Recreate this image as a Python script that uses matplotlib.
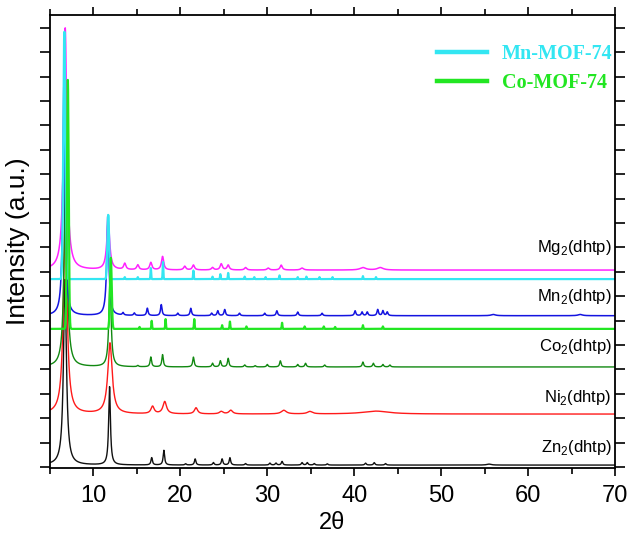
import numpy as np
import matplotlib
matplotlib.use("Agg")
import matplotlib.pyplot as plt
from matplotlib.lines import Line2D

plt.rcParams['font.family'] = ['Liberation Sans', 'DejaVu Sans']
plt.rcParams['mathtext.fontset'] = 'custom'
plt.rcParams['mathtext.rm'] = 'Liberation Sans'

# peak tables: position (2theta), height (a.u.), half width
# each pattern sits on its own offset baseline
zn_base = 0.08
zn_pos = [6.72, 11.85, 16.7, 18.1, 20.6, 21.7, 23.8, 24.8, 25.7, 27.5, 30.3, 31.0, 31.7, 34.0, 34.6, 35.4, 36.9, 41.3, 42.3, 43.6, 55.5]
zn_hgt = [7.6, 3.2, 0.3, 0.6, 0.05, 0.25, 0.1, 0.25, 0.3, 0.06, 0.08, 0.08, 0.15, 0.1, 0.1, 0.06, 0.05, 0.08, 0.1, 0.06, 0.04]
zn_wid = [0.2, 0.12, 0.1, 0.1, 0.1, 0.1, 0.1, 0.1, 0.1, 0.1, 0.1, 0.1, 0.1, 0.1, 0.1, 0.1, 0.1, 0.1, 0.1, 0.1, 0.3]

ni_base = 2.17
ni_pos = [6.75, 11.9, 16.8, 18.2, 21.8, 24.7, 25.8, 31.9, 34.9, 42.5]
ni_hgt = [8.0, 2.9, 0.3, 0.5, 0.25, 0.1, 0.15, 0.15, 0.1, 0.12]
ni_wid = [0.25, 0.3, 0.22, 0.25, 0.22, 0.25, 0.25, 0.35, 0.35, 1.8]

co_base = 4.1
co_pos = [6.8, 11.9, 15.1, 16.6, 17.95, 21.5, 23.7, 24.6, 25.5, 27.4, 28.6, 30.0, 31.5, 33.5, 34.4, 36.6, 41.0, 42.2, 43.3, 44.1]
co_hgt = [8.5, 3.6, 0.05, 0.4, 0.5, 0.4, 0.15, 0.25, 0.35, 0.08, 0.05, 0.1, 0.25, 0.1, 0.15, 0.08, 0.2, 0.15, 0.1, 0.08]
co_wid = [0.2, 0.15, 0.1, 0.1, 0.1, 0.1, 0.1, 0.1, 0.1, 0.1, 0.1, 0.1, 0.1, 0.1, 0.1, 0.1, 0.1, 0.1, 0.1, 0.1]

mn_base = 6.2
mn_pos = [6.6, 11.65, 13.4, 14.7, 16.2, 17.8, 19.7, 21.2, 23.6, 24.3, 25.1, 26.8, 29.7, 31.1, 33.5, 36.3, 40.1, 40.9, 41.5, 42.7, 43.3, 43.8, 56.0, 66.0]
mn_hgt = [9.5, 4.1, 0.1, 0.1, 0.3, 0.45, 0.1, 0.3, 0.1, 0.2, 0.25, 0.1, 0.1, 0.2, 0.15, 0.1, 0.2, 0.15, 0.15, 0.25, 0.2, 0.15, 0.05, 0.05]
mn_wid = [0.15, 0.15, 0.1, 0.1, 0.1, 0.1, 0.1, 0.1, 0.1, 0.1, 0.1, 0.1, 0.1, 0.1, 0.1, 0.1, 0.1, 0.1, 0.1, 0.1, 0.1, 0.1, 0.3, 0.3]

mg_base = 8.07
mg_pos = [6.75, 11.7, 13.6, 15.1, 16.6, 17.95, 20.5, 21.5, 23.7, 24.7, 25.5, 27.5, 30.1, 31.6, 34.0, 41.0, 43.0]
mg_hgt = [9.92, 2.0, 0.25, 0.2, 0.3, 0.55, 0.15, 0.2, 0.1, 0.25, 0.2, 0.1, 0.08, 0.2, 0.08, 0.1, 0.1]
mg_wid = [0.22, 0.2, 0.15, 0.15, 0.15, 0.15, 0.15, 0.15, 0.15, 0.15, 0.15, 0.15, 0.15, 0.15, 0.2, 0.4, 0.4]

# simulated patterns (sharp sticks)
mnsim_base = 7.7
mnsim_pos = [6.65, 11.7, 13.6, 15.1, 16.6, 18.0, 21.5, 23.7, 24.6, 25.5, 27.4, 28.5, 29.8, 31.4, 33.5, 34.5, 36.0, 37.5, 41.0, 42.5]
mnsim_hgt = [10.13, 2.63, 0.08, 0.08, 0.45, 0.7, 0.35, 0.1, 0.2, 0.25, 0.1, 0.08, 0.08, 0.15, 0.08, 0.1, 0.08, 0.08, 0.12, 0.08]
mnsim_wid = [0.12, 0.1] + [0.04] * 18

cosim_base = 5.66
cosim_pos = [7.05, 12.0, 15.3, 16.7, 18.3, 21.6, 24.8, 25.7, 27.6, 31.7, 34.3, 36.5, 37.8, 41.0, 43.3]
cosim_hgt = [10.2, 2.91, 0.08, 0.33, 0.4, 0.4, 0.15, 0.3, 0.1, 0.25, 0.1, 0.1, 0.08, 0.15, 0.1]
cosim_wid = [0.1, 0.1] + [0.04] * 13

labels = ['Zn$_2$(dhtp)', 'Ni$_2$(dhtp)', 'Co$_2$(dhtp)', 'Mn$_2$(dhtp)', 'Mg$_2$(dhtp)']
label_y = [0.78, 2.83, 4.92, 6.97, 8.98]


def pattern(x, base, pos, hgt, wid):
    # measured patterns: lorentzian peaks
    y = np.full_like(x, base)
    for c, h, w in zip(pos, hgt, wid):
        y += h * w**2 / ((x - c)**2 + w**2)
    return y


def sticks(x, base, pos, hgt, wid):
    # simulated patterns: narrow gaussian sticks
    y = np.full_like(x, base)
    for c, h, w in zip(pos, hgt, wid):
        y += h * np.exp(-0.5 * ((x - c) / w)**2)
    return y


tt = np.arange(5.0, 70.0001, 0.01)

fig = plt.figure(figsize=(6.27, 5.38), dpi=100)
ax = fig.add_axes([50/627, 1-468/538, 565/627, 453/538])

ax.plot(tt, pattern(tt, zn_base, zn_pos, zn_hgt, zn_wid), color='#111111', lw=1.0)
ax.plot(tt, pattern(tt, ni_base, ni_pos, ni_hgt, ni_wid), color='#ff1a1a', lw=1.0)
ax.plot(tt, pattern(tt, co_base, co_pos, co_hgt, co_wid), color='#118811', lw=1.0)
ax.plot(tt, pattern(tt, mn_base, mn_pos, mn_hgt, mn_wid), color='#1414e0', lw=1.1)
ax.plot(tt, pattern(tt, mg_base, mg_pos, mg_hgt, mg_wid), color='#ff22ff', lw=1.1)

ax.plot(tt, sticks(tt, mnsim_base, mnsim_pos, mnsim_hgt, mnsim_wid), color='#33e6f2', lw=1.6)
ax.plot(tt, sticks(tt, cosim_base, cosim_pos, cosim_hgt, cosim_wid), color='#22e622', lw=1.6)

for lab, yy in zip(labels, label_y):
    ax.text(69.6, yy, lab, ha='right', va='center', fontsize=12)

leg = ax.legend([Line2D([], [], color='#33e6f2', lw=3.2), Line2D([], [], color='#22e622', lw=3.2)],
                ['Mn-MOF-74', 'Co-MOF-74'], loc='upper right', bbox_to_anchor=(1.027, 0.975),
                frameon=False, handlelength=2.5, handletextpad=0.7, labelspacing=0.42,
                prop={'family': 'Liberation Serif', 'weight': 'bold', 'size': 14.5})
for txt, c in zip(leg.get_texts(), ['#33e6f2', '#22e622']):
    txt.set_color(c)

ax.set_xlim(5, 70)
ax.set_ylim(-0.04, 18.52)
ax.set_xticks(np.arange(10, 71, 10))
ax.set_xticks(np.arange(5, 70, 10), minor=True)
ax.set_yticks(np.arange(0, 19, 1))
ax.set_yticklabels([])
ax.tick_params(axis='x', which='major', direction='out', length=6, width=1.2, labelsize=17, pad=6, top=True)
ax.tick_params(axis='x', which='minor', direction='out', length=4, width=1.2, top=True)
ax.tick_params(axis='y', direction='out', length=7, width=1.2, right=True)
for s in ax.spines.values():
    s.set_linewidth(1.3)

ax.set_xlabel('2θ', fontsize=17, labelpad=4)
ax.set_ylabel('Intensity (a.u.)', fontsize=19, labelpad=4)

fig.savefig('out.png', dpi=100)
